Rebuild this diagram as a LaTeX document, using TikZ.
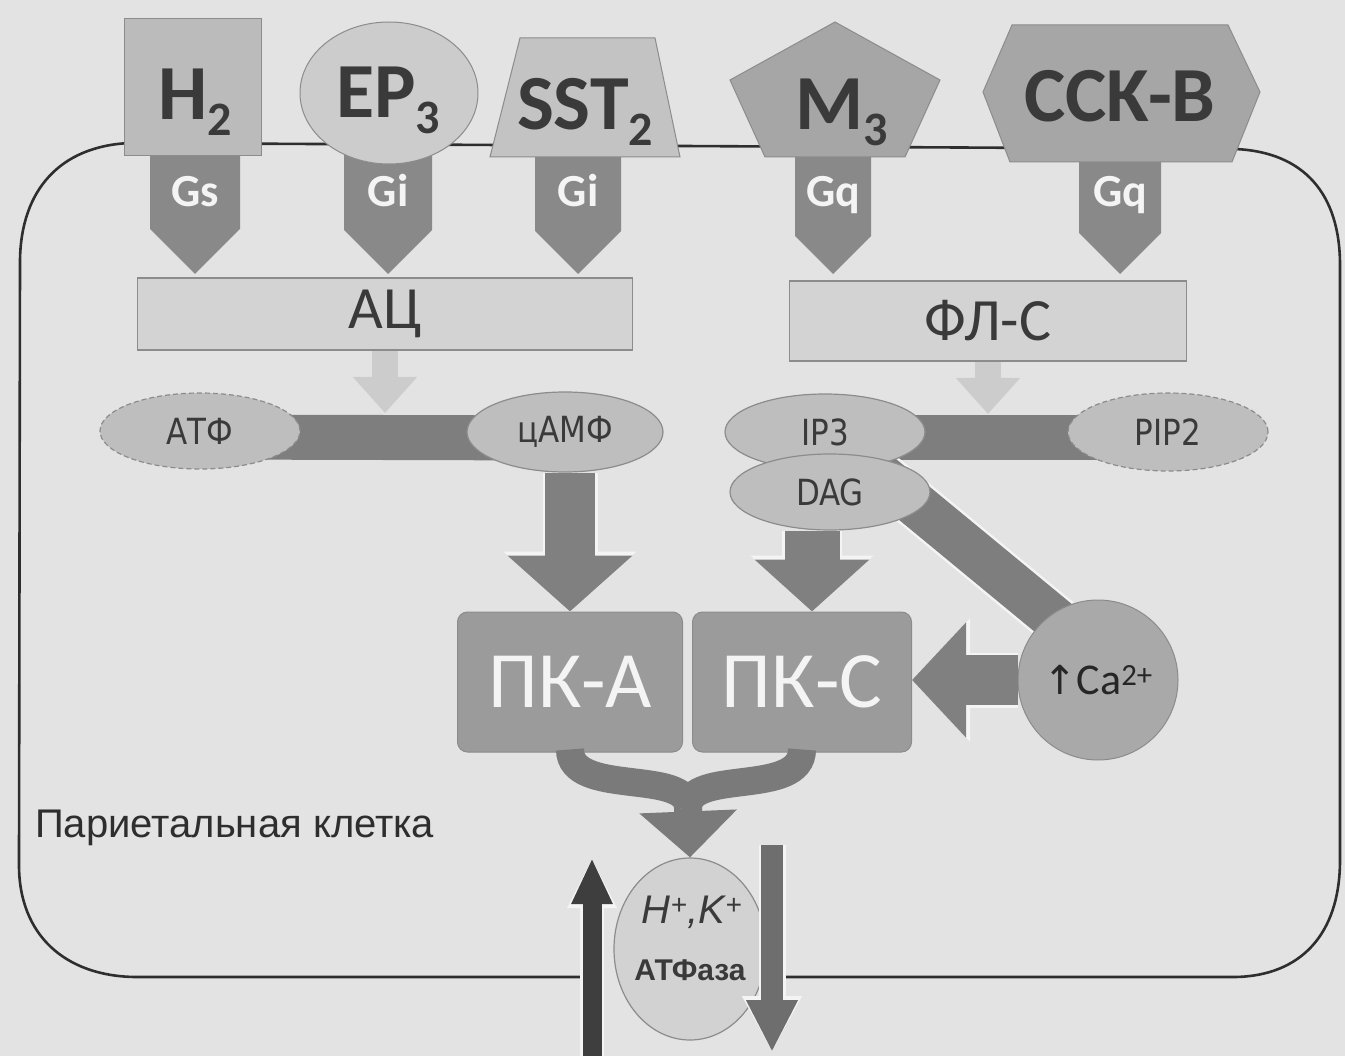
\documentclass[tikz,border=0pt]{standalone}
\usepackage{fontspec}
\setmainfont{Carlito}
\newfontfamily\dvs[FakeStretch=0.86]{DejaVu Sans}
\newfontfamily\dvsplain{DejaVu Sans}
\newfontfamily\lib{Liberation Sans}
\usetikzlibrary{arrows.meta,shapes.geometric,calc}
\newcommand{\fsz}[1]{\fontsize{#1}{#1}\selectfont}
\newcommand{\lowidx}[1]{\raisebox{-0.2em}{\fsz{48}#1}}
\definecolor{bgc}{HTML}{E3E3E3}
\definecolor{txt}{HTML}{3A3A3A}
\definecolor{recA}{HTML}{BBBBBB}
\definecolor{recB}{HTML}{CCCCCC}
\definecolor{recC}{HTML}{C3C3C3}
\definecolor{recD}{HTML}{A6A6A6}
\definecolor{gcol}{HTML}{898989}
\definecolor{edge}{HTML}{8C8C8C}
\definecolor{enzc}{HTML}{D3D3D3}
\definecolor{barc}{HTML}{7E7E7E}
\definecolor{ellc}{HTML}{BEBEBE}
\definecolor{pkcol}{HTML}{9B9B9B}
\definecolor{cacol}{HTML}{A9A9A9}
\definecolor{atpcol}{HTML}{D2D2D2}
\definecolor{membc}{HTML}{2E2E2E}
\definecolor{uparc}{HTML}{3E3E3E}
\definecolor{dnarc}{HTML}{6E6E6E}
\definecolor{darkarc}{HTML}{808080}
\definecolor{convc}{HTML}{7A7A7A}
\definecolor{haloc}{HTML}{F4F4F4}
\tikzset{
  memb/.style={draw=membc, line width=2.6pt},
  recshape/.style={fill=#1, draw=edge, line width=1pt},
  rectext/.style={font=\bfseries\fsz{78}, text=txt, inner sep=0pt, anchor=base},
  gtext/.style={font=\bfseries\fsz{46}, text=haloc, inner sep=0pt, anchor=base},
  enz/.style={rectangle, fill=enzc, draw=edge, line width=1.5pt, font=\fsz{60}, text=txt, inner sep=0pt},
  lightarr/.style={draw=enzc!92!gray, line width=26pt, -{Triangle[width=62pt,length=36pt]}},
  bar/.style={draw=barc, line width=45pt},
  ell/.style={ellipse, fill=ellc, draw=edge, line width=1.2pt, font=\dvs\fsz{36}, text=txt, inner sep=0pt},
  dashedell/.style={ell, dash pattern=on 5pt off 3pt},
  pk/.style={rectangle, rounded corners=10pt, fill=pkcol, draw=edge, line width=1pt, font=\fsz{80}, text=haloc, inner sep=0pt},
  blk/.style n args={7}{draw=#1, line width=#2, -{Triangle[width=#3,length=#4]},
     preaction={draw=haloc, line width=#5, -{Triangle[width=#6,length=#7]}}},
  conv/.style={draw=convc, line width=28pt},
}
\begin{document}
\begin{tikzpicture}[x=1pt,y=-1pt]
\fill[bgc] (0,0) rectangle (1345,1056);
\useasboundingbox (0,0) rectangle (1345,1056);

% cell membrane
\draw[memb] (130,143) -- (1235,149) .. controls (1305,152) and (1340,195) .. (1340,265)
  -- (1340,860) .. controls (1340,935) and (1300,976) .. (1235,977) -- (135,977)
  .. controls (65,976) and (19,935) .. (19,865) -- (20,260)
  .. controls (21,190) and (60,146) .. (130,143) -- cycle;
\fill[bgc] (582,966) rectangle (786,990);

% G-protein arrows
\foreach \x/\w/\lab/\nm in {195/45/Gs/gs, 388/44/Gi/gia, 578/43/Gi/gib, 833/38/Gq/gqa, 1120/41/Gq/gqb} {
  \fill[gcol] (\x-\w,140) -- (\x+\w,140) -- (\x+\w,274-\w) -- (\x,274) -- (\x-\w,274-\w) -- cycle;
  \node[gtext] (\nm) at (\x,207) {\lab};
}

% receptors
\node[rectangle, recshape=recA, minimum width=137pt, minimum height=137pt] (h2) at (193,87) {};
\node[rectext] (h2t) at (195,120) {H\lowidx{2}};
\node[ellipse, recshape=recB, minimum width=178pt, minimum height=142pt] (ep3) at (389,93) {};
\node[rectext] (ep3t) at (388,118) {EP\lowidx{3}};
\filldraw[recshape=recC] (520,38) -- (655,38) -- (680,157) -- (490,157) -- cycle;
\node[rectext] (sst2t) at (585,130) {SST\lowidx{2}};
\filldraw[recshape=recD] (835,22) -- (940,80) -- (905,157) -- (765,157) -- (730,80) -- cycle;
\node[rectext] (m3t) at (842,130) {M\lowidx{3}};
\filldraw[recshape=recD] (1012,25) -- (1228,25) -- (1260,92) -- (1232,162) -- (1010,162) -- (983,92) -- cycle;
\node[rectext] (cckt) at (1120,122) {CCK-B};

% enzymes
\node[enz, minimum width=495pt, minimum height=72pt] (ac) at (385,314) {АЦ};
\node[enz, minimum width=397pt, minimum height=80pt] (flc) at (988,321) {ФЛ-С};

% bars
\coordinate (atpc) at (200,431);
\coordinate (campc) at (565,432);
\coordinate (ip3c) at (825,432);
\coordinate (pip2c) at (1168,432);
\coordinate (dagc) at (830,492);
\coordinate (cac) at (1098,680);
\coordinate (dagbar) at (880,475);
\coordinate (cabar) at (1080,640);
\draw[bar] ($(atpc)+(0,6)$) -- ($(campc)+(0,6)$);
\draw[bar] ($(ip3c)+(0,6)$) -- ($(pip2c)+(0,6)$);
\draw[bar, preaction={draw=haloc, line width=50pt}] (dagbar) -- (cabar);

% light arrows
\coordinate (acin) at (385,413);
\coordinate (flin) at (988,414);
\draw[lightarr] (ac.south) -- (acin);
\draw[lightarr] (flc.south) -- (flin);

% small molecules
\node[dashedell, minimum width=200pt, minimum height=76pt] (atp) at (atpc) {АТФ};
\node[ell, minimum width=196pt, minimum height=80pt] (camp) at (campc) {цАМФ};
\node[ell, minimum width=200pt, minimum height=76pt] (ip3) at (ip3c) {IP3};
\node[dashedell, minimum width=200pt, minimum height=78pt] (pip2) at (pip2c) {PIP2};
\node[ell, minimum width=200pt, minimum height=76pt] (dag) at (dagc) {DAG};

% kinases and calcium
\node[pk, minimum width=225pt, minimum height=140pt] (pka) at (570,682) {ПК-А};
\node[pk, minimum width=219pt, minimum height=140pt] (pkc) at (802,682) {ПК-С};
\node[circle, fill=cacol, draw=edge, line width=1pt, minimum size=160pt, inner sep=0pt, text=black!85] (ca) at (cac)
  {{\dvsplain\fsz{40}↑}{\fsz{44}Ca\textsuperscript{2+}}};

% dark arrows
\coordinate (pkcin) at ($(pkc.north)+(10,0)$);
\draw[blk={darkarc}{50pt}{122pt}{56pt}{55pt}{130pt}{60pt}] (camp.south -| pka.north) -- (pka.north);
\draw[blk={darkarc}{55pt}{112pt}{52pt}{60pt}{120pt}{56pt}] (dag.south -| pkcin) -- (pkcin);
\draw[blk={darkarc}{50pt}{112pt}{54pt}{55pt}{120pt}{58pt}] (ca.west) -- (ca.west -| pkc.east);

% ATPase
\node[ellipse, fill=atpcol, draw=edge, line width=1.2pt, minimum width=152pt, minimum height=182pt] (atpase) at (690,949) {};
\node[font=\lib\itshape\fsz{40}, text=txt, inner sep=0pt] (hk) at (692,912) {H\textsuperscript{+},K\textsuperscript{+}};
\node[font=\lib\bfseries\fsz{30}, text=txt, inner sep=0pt] (atfaza) at (690,970) {АТФаза};

% converging arrows
\coordinate (merge) at (688,808);
\draw[conv] ($(pka.south)+(0,-3)$) .. controls +(0,48) and +(0,-40) .. (merge);
\draw[conv] ($(pkc.south)+(0,-3)$) .. controls +(0,48) and +(0,-40) .. (merge);
\draw[draw=convc, line width=28pt, -{Triangle[width=95pt,length=46pt]}] (merge) -- (atpase.north);

% ion transport arrows
\coordinate (upbot) at (592,1060);
\coordinate (uptop) at (592,858);
\coordinate (dntop) at (772,845);
\coordinate (dnbot) at (772,1052);
\draw[blk={uparc}{19pt}{38pt}{46pt}{24pt}{46pt}{50pt}] (upbot) -- (uptop);
\draw[blk={dnarc}{22pt}{48pt}{52pt}{27pt}{56pt}{56pt}] (dntop) -- (dnbot);

% label
\node[anchor=west, font=\lib\fsz{40}, text=black!82, inner sep=0pt] (cell) at (35,828) {Париетальная клетка};
\end{tikzpicture}
\end{document}
